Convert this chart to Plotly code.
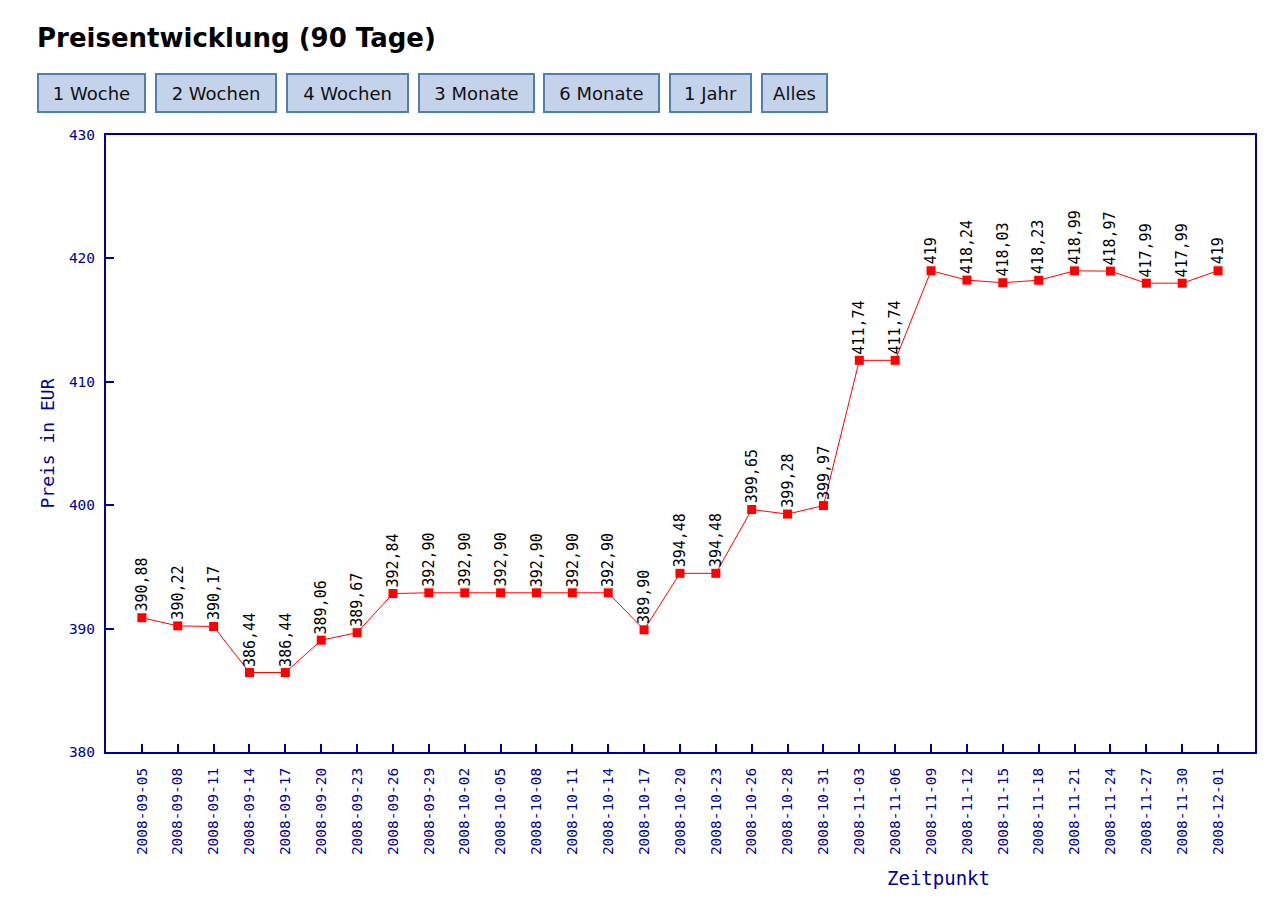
import plotly.graph_objects as go

dates = ["2008-09-05", "2008-09-08", "2008-09-11", "2008-09-14", "2008-09-17", "2008-09-20",
         "2008-09-23", "2008-09-26", "2008-09-29", "2008-10-02", "2008-10-05", "2008-10-08",
         "2008-10-11", "2008-10-14", "2008-10-17", "2008-10-20", "2008-10-23", "2008-10-26",
         "2008-10-28", "2008-10-31", "2008-11-03", "2008-11-06", "2008-11-09", "2008-11-12",
         "2008-11-15", "2008-11-18", "2008-11-21", "2008-11-24", "2008-11-27", "2008-11-30",
         "2008-12-01"]
prices = [390.88, 390.22, 390.17, 386.44, 386.44, 389.06, 389.67, 392.84, 392.90, 392.90,
          392.90, 392.90, 392.90, 392.90, 389.90, 394.48, 394.48, 399.65, 399.28, 399.97,
          411.74, 411.74, 419.00, 418.24, 418.03, 418.23, 418.99, 418.97, 417.99, 417.99,
          419.00]
buttons = ["1 Woche", "2 Wochen", "4 Wochen", "3 Monate", "6 Monate", "1 Jahr", "Alles"]
button_px = [(37, 146), (155, 277), (286, 409), (418, 535), (543, 660), (669, 752), (761, 828)]

NAVY = "#000099"
W, H = 1280, 902
L, R, T, B = 106, 1255, 135, 752
PW, PH = R - L, B - T


def fx(px):
    return (px - L) / PW


def fy(py):
    return (B - py) / PH


def fmt(v):
    if abs(v - round(v)) < 1e-9:
        return str(int(round(v)))
    return f"{v:.2f}".replace(".", ",")


fig = go.Figure()
fig.add_trace(go.Scatter(
    x=dates, y=prices, mode="lines+markers",
    line=dict(color="#ff0000", width=1),
    marker=dict(symbol="square", size=9, color="#ff0000"),
    showlegend=False, hoverinfo="x+y",
))

annotations = []
for d, p in zip(dates, prices):
    annotations.append(dict(
        x=d, y=p, xref="x", yref="y", text=fmt(p), showarrow=False,
        textangle=-90, xanchor="center", yanchor="bottom", yshift=4,
        font=dict(family="DejaVu Sans Mono", size=15, color="#000000"),
    ))

# x-axis title
annotations.append(dict(
    x=fx(938), y=fy(878), xref="paper", yref="paper", text="Zeitpunkt", showarrow=False,
    xanchor="center", yanchor="middle",
    font=dict(family="DejaVu Sans Mono", size=19, color=NAVY),
))

# buttons
for lab, (x0, x1) in zip(buttons, button_px):
    annotations.append(dict(
        x=fx(x0), y=fy(73), xref="paper", yref="paper", text=lab, showarrow=False,
        xanchor="left", yanchor="top", width=x1 - x0 - 4, height=36,
        bgcolor="#c5d3ea", bordercolor="#4f7fae", borderwidth=2, borderpad=0,
        font=dict(family="DejaVu Sans", size=18, color="#111111"),
    ))

fig.update_layout(
    width=W, height=H,
    margin=dict(l=L, r=W - R, t=T, b=H - B),
    paper_bgcolor="#ffffff", plot_bgcolor="#ffffff",
    title=dict(text="<b>Preisentwicklung (90 Tage)</b>", x=37 / W, xanchor="left",
               xref="container", yref="container", y=1 - 38 / H, yanchor="middle",
               font=dict(family="DejaVu Sans", size=26, color="#000000")),
    annotations=annotations,
    xaxis=dict(
        type="category", range=[-1, 31.03], tickangle=-90,
        showgrid=False, zeroline=False,
        showline=True, mirror=True, linecolor=NAVY, linewidth=2,
        ticks="inside", ticklen=8, tickcolor=NAVY, tickwidth=2,
        ticklabelstandoff=8,
        tickfont=dict(family="DejaVu Sans Mono", size=14.5, color=NAVY),
    ),
    yaxis=dict(
        range=[380, 430], dtick=10, tick0=380,
        showgrid=False, zeroline=False,
        showline=True, mirror=True, linecolor=NAVY, linewidth=2,
        ticks="inside", ticklen=8, tickcolor=NAVY, tickwidth=2,
        ticklabelstandoff=6,
        tickfont=dict(family="DejaVu Sans Mono", size=14.5, color=NAVY),
        title=dict(text="Preis in EUR", standoff=10,
                   font=dict(family="DejaVu Sans Mono", size=18, color=NAVY)),
    ),
)

fig.write_html("out.html")
